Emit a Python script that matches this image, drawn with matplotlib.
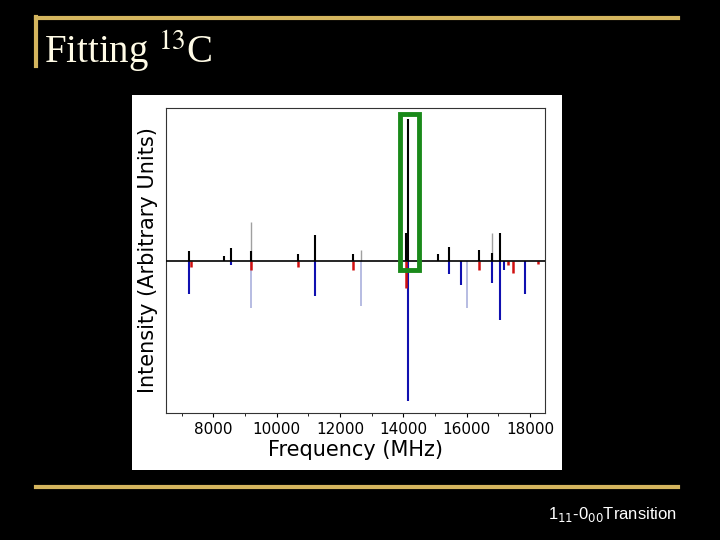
import matplotlib
matplotlib.use("Agg")
import matplotlib.pyplot as plt
from matplotlib.patches import Rectangle

# observed (black, positive)
obs_f = [7242, 8347, 8548, 9190, 10664, 11212, 12391, 14065, 14139, 15097, 15445, 16392, 16782, 17035]
obs_i = [0.06, 0.03, 0.085, 0.06, 0.045, 0.17, 0.04, 0.18, 0.93, 0.04, 0.09, 0.07, 0.05, 0.18]
# faint gray observed peaks
gray_f = [9190, 12665, 16782]
gray_i = [0.25, 0.07, 0.18]
# fit 1 (blue, negative)
blue_f = [7231, 8548, 9190, 11212, 12665, 14139, 15445, 15824, 16003, 16782, 17035, 17161, 17846]
blue_i = [-0.22, -0.03, -0.31, -0.23, -0.30, -0.92, -0.09, -0.16, -0.31, -0.15, -0.39, -0.06, -0.22]
blue_faint = [False, False, True, False, True, False, False, False, True, False, False, False, False]
# fit 2 (red, negative)
red_f = [7305, 9190, 10664, 12391, 14065, 16371, 17297, 17456, 18235]
red_i = [-0.04, -0.06, -0.04, -0.06, -0.18, -0.06, -0.03, -0.08, -0.02]

W, H = 720, 540
fig = plt.figure(figsize=(7.2, 5.4), dpi=100, facecolor="black")

def fx(x): return x / W
def fy(y): return 1 - y / H

gold = "#d4b55e"
fig.add_artist(plt.Line2D([fx(36), fx(678)], [fy(18), fy(18)], color=gold, lw=3))
fig.add_artist(plt.Line2D([fx(36), fx(36)], [fy(17), fy(66)], color=gold, lw=3))
fig.add_artist(plt.Line2D([fx(36), fx(678)], [fy(487), fy(487)], color=gold, lw=3))
fig.text(fx(44), fy(52), r"Fitting $^{13}$C", color="#fffbe6", fontsize=28,
         family="Liberation Serif", va="center", ha="left", math_fontfamily="stix")
fig.text(fx(548), fy(514), r"1$_{11}$-0$_{00}$Transition", color="white", fontsize=12,
         family="Liberation Sans", va="center", ha="left", math_fontfamily="dejavusans")

# white panel
fig.add_artist(Rectangle((fx(132), fy(470)), fx(430), 375 / H, transform=fig.transFigure,
                         facecolor="white", edgecolor="none", zorder=0))

ax = fig.add_axes([fx(166), fy(413), fx(379), 305 / H])
ax.set_facecolor("white")
ax.set_xlim(6500, 18470)
ax.set_ylim(-1, 1)
ax.axhline(0, color="black", lw=1.2, zorder=5)
ax.vlines(gray_f, 0, gray_i, color="#a0a0a0", lw=1)
for f, i, fa in zip(blue_f, blue_i, blue_faint):
    ax.vlines(f, 0, i, color="#aab0dd" if fa else "#1010b0", lw=1.5 if not fa else 1.2)
ax.vlines(red_f, 0, red_i, color="#d01010", lw=1.8)
ax.vlines(obs_f, 0, obs_i, color="black", lw=1.5)
ax.add_patch(Rectangle((13876, -0.065), 610, 1.025, fill=False, edgecolor="#1a8a1a", lw=3.5, zorder=6))

ax.set_xticks([8000, 10000, 12000, 14000, 16000, 18000])
ax.set_xticks(range(7000, 18001, 1000), minor=True)
ax.set_yticks([])
ax.tick_params(axis="x", labelsize=11, length=3, direction="out")
ax.tick_params(axis="x", which="minor", length=2)
ax.set_xlabel("Frequency (MHz)", fontsize=15, labelpad=2)
ax.set_ylabel("Intensity (Arbitrary Units)", fontsize=15, labelpad=6)
for s in ax.spines.values():
    s.set_color("#333333")
    s.set_linewidth(0.8)

fig.savefig("out.png", dpi=100, facecolor="black")
